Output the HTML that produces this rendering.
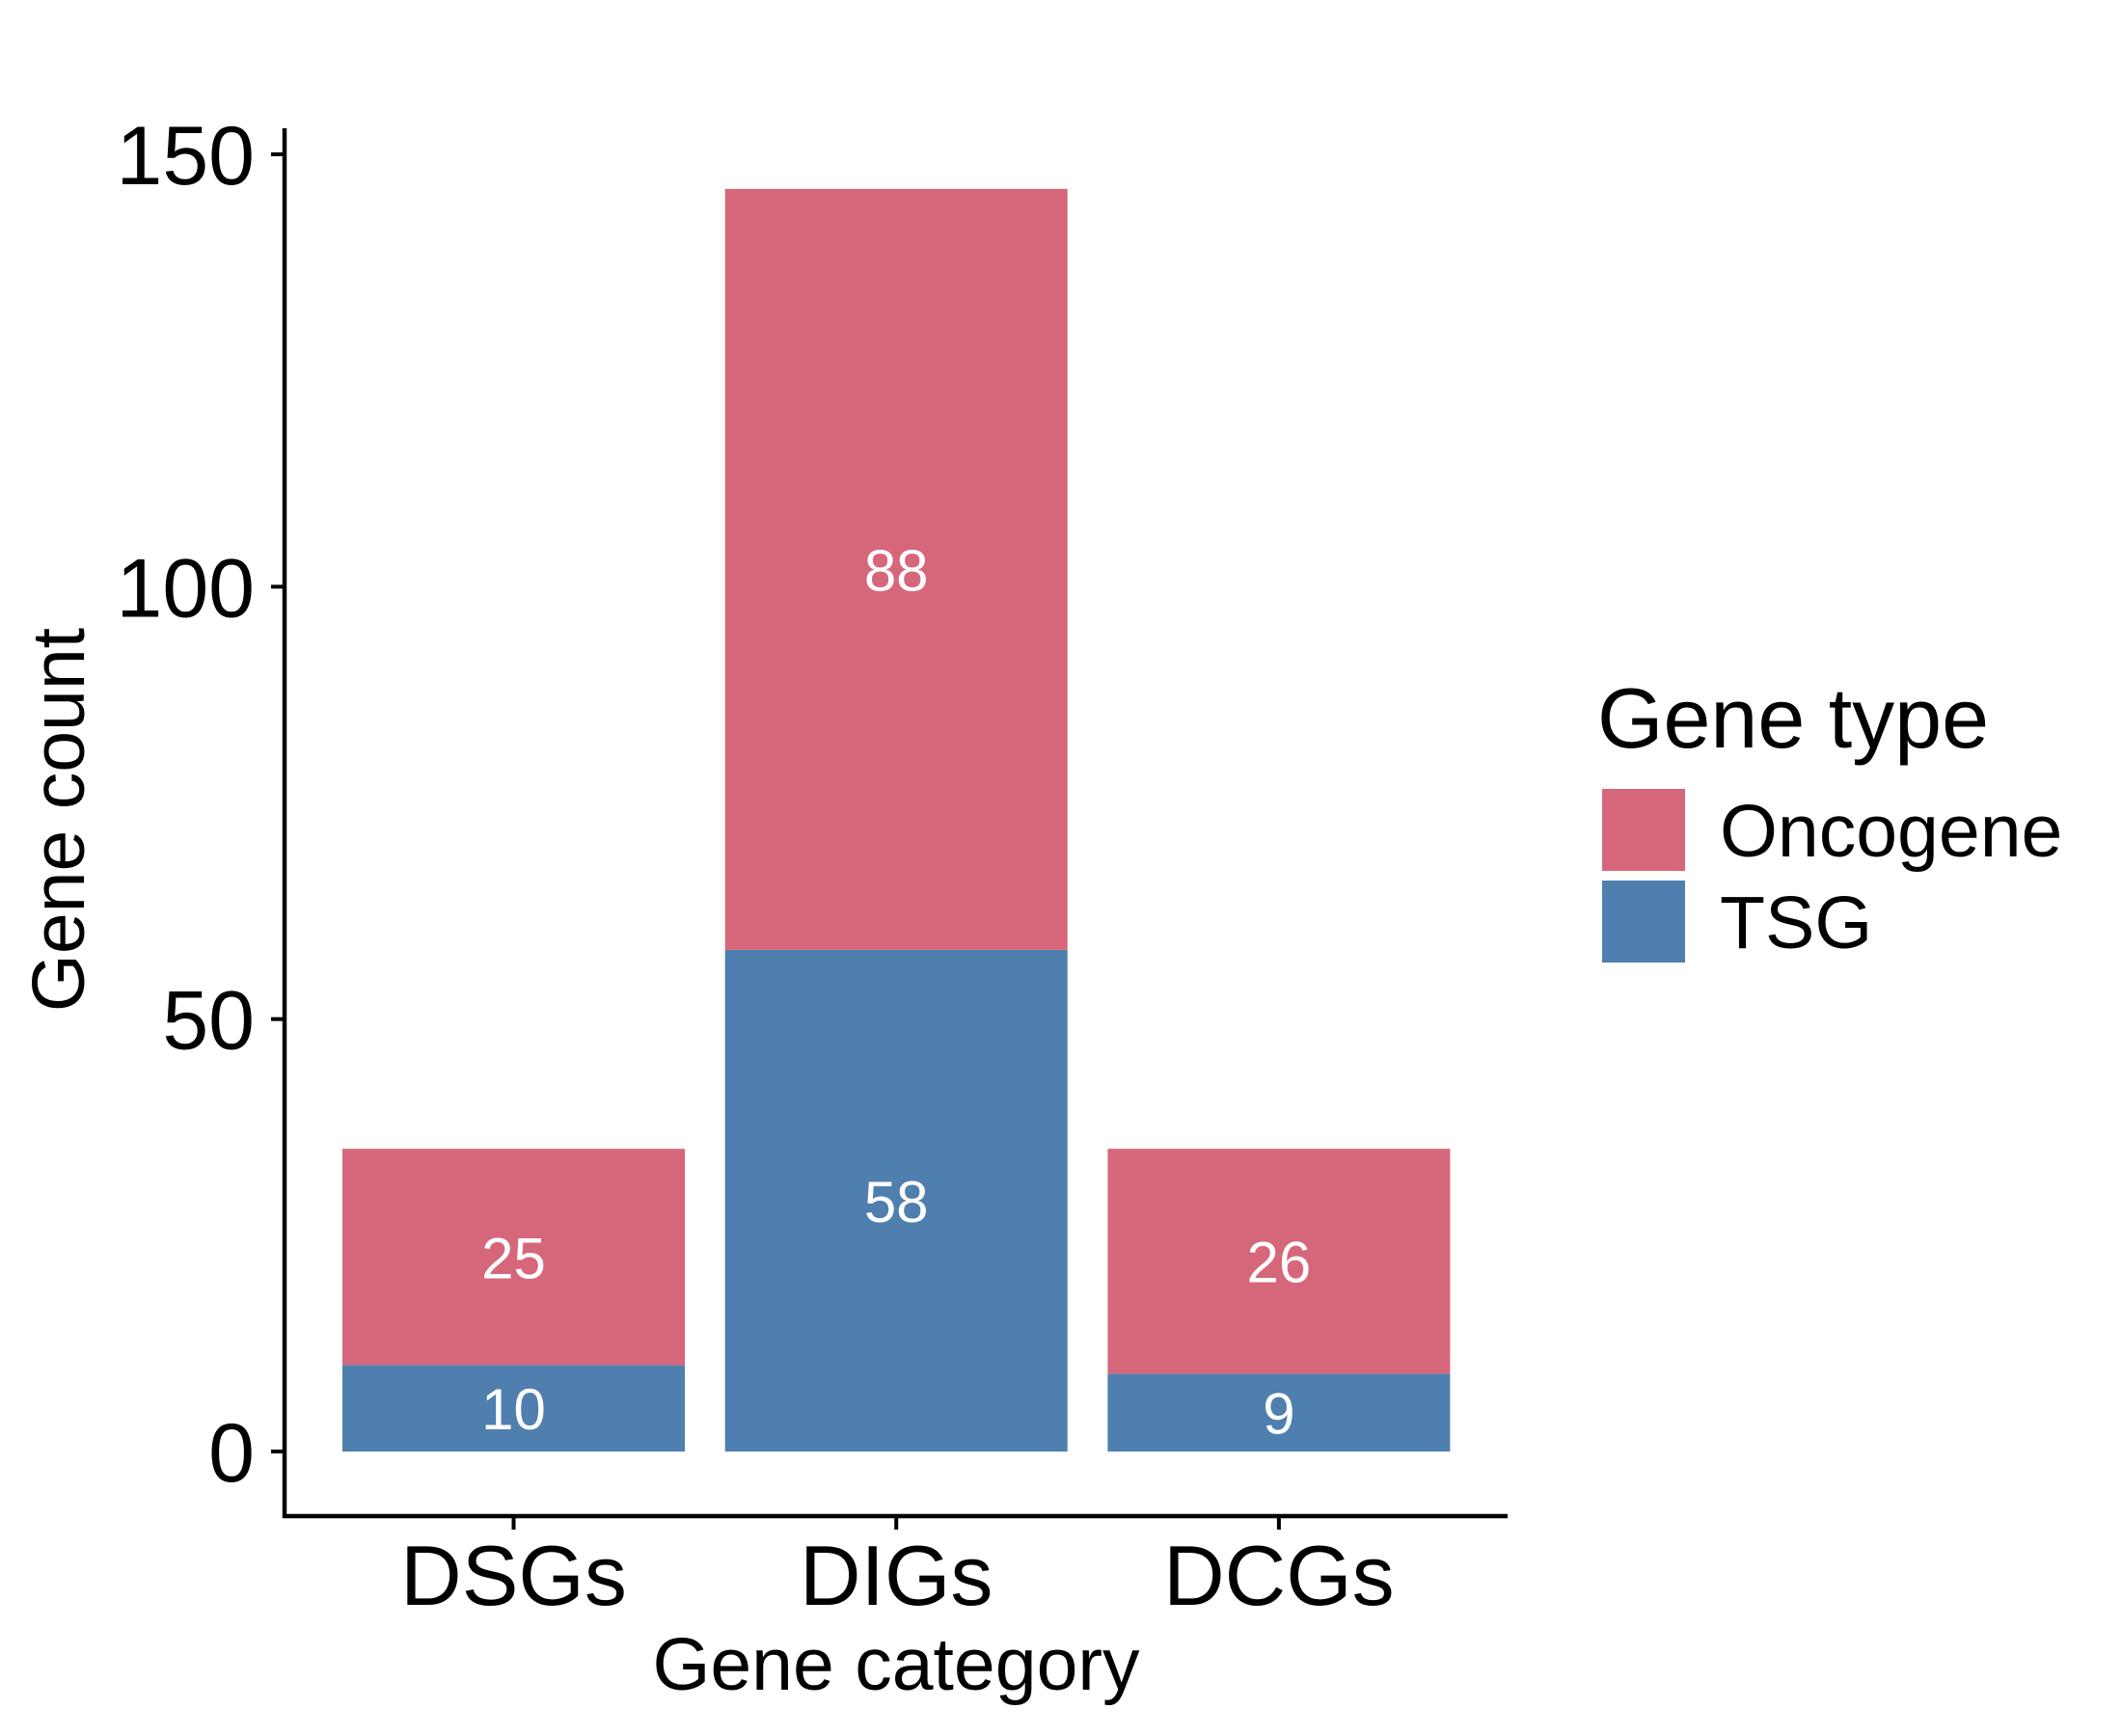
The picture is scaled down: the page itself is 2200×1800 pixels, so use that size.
<!DOCTYPE html>
<html><head><meta charset="utf-8">
<style>
html,body{margin:0;padding:0;background:#fff;}
svg{display:block;font-family:"Liberation Sans",Arial,sans-serif;}
</style></head>
<body>
<svg id="chart" width="2200" height="1800" viewBox="0 0 2200 1800" xmlns="http://www.w3.org/2000/svg">
<g id="plot"></g>
</svg>
<script>
const categories = ["DSGs","DIGs","DCGs"];
const tsgValues = [10,58,9];
const oncoValues = [25,88,26];
const yTicks = [0,50,100,150];
const colors = {onco:"#d6677a", tsg:"#4f7fae"};

const NS="http://www.w3.org/2000/svg";
const g=document.getElementById('plot');
const y0=1505, yPer=(1505-160)/150;
const yS=v=>y0-v*yPer;
const bandStart=355, step=396.7, barW=355;
const xC=i=>bandStart+barW/2+i*step;
function mk(tag,attrs,parent){const e=document.createElementNS(NS,tag);for(const k in attrs)e.setAttribute(k,attrs[k]);(parent||g).appendChild(e);return e;}
function txt(s,attrs){const e=mk('text',attrs);e.textContent=s;return e;}

categories.forEach((c,i)=>{
  const x=xC(i)-barW/2;
  const t=tsgValues[i], o=oncoValues[i];
  const r1=mk('rect',{x:x,y:yS(t),width:barW,height:yS(0)-yS(t),fill:colors.tsg});
  
  
  const r2=mk('rect',{x:x,y:yS(t+o),width:barW,height:yS(t)-yS(t+o),fill:colors.onco});
  
  
  const l1=txt(String(t),{x:xC(i),y:yS(t/2)+22,'text-anchor':'middle','font-size':60,fill:'#fff'});
  
  
  const l2=txt(String(o),{x:xC(i),y:yS(t+o/2)+22,'text-anchor':'middle','font-size':60,fill:'#fff'});
  
  
  const tk=mk('line',{x1:xC(i),x2:xC(i),y1:1572,y2:1586,stroke:'#000','stroke-width':4});
  
  
  const tl=txt(c,{x:xC(i),y:1664,'text-anchor':'middle','font-size':88,fill:'#000'});
  
  
});
yTicks.forEach(v=>{
  const tk=mk('line',{x1:281,x2:295,y1:yS(v),y2:yS(v),stroke:'#000','stroke-width':4});
  
  
  const tl=txt(String(v),{x:264,y:yS(v)+31,'text-anchor':'end','font-size':86,fill:'#000'});
  
  
});
const ya=mk('line',{x1:295,x2:295,y1:133,y2:1574,stroke:'#000','stroke-width':4.5});


const xa=mk('line',{x1:293,x2:1563,y1:1572,y2:1572,stroke:'#000','stroke-width':4.5});


const xt=txt('Gene category',{x:929,y:1752,'text-anchor':'middle','font-size':77,fill:'#000'});


const yt=txt('Gene count',{x:0,y:0,'text-anchor':'middle','font-size':77,fill:'#000',transform:'translate(87,850) rotate(-90)'});


const lt=txt('Gene type',{x:1656,y:775,'font-size':88,fill:'#000'});


const k1=mk('rect',{x:1661,y:818,width:86,height:85,fill:colors.onco});


const k2=mk('rect',{x:1661,y:913,width:86,height:85,fill:colors.tsg});


const e1=txt('Oncogene',{x:1783,y:888,'font-size':77,fill:'#000'});


const e2=txt('TSG',{x:1783,y:983,'font-size':77,fill:'#000'});


</script>
</body></html>
